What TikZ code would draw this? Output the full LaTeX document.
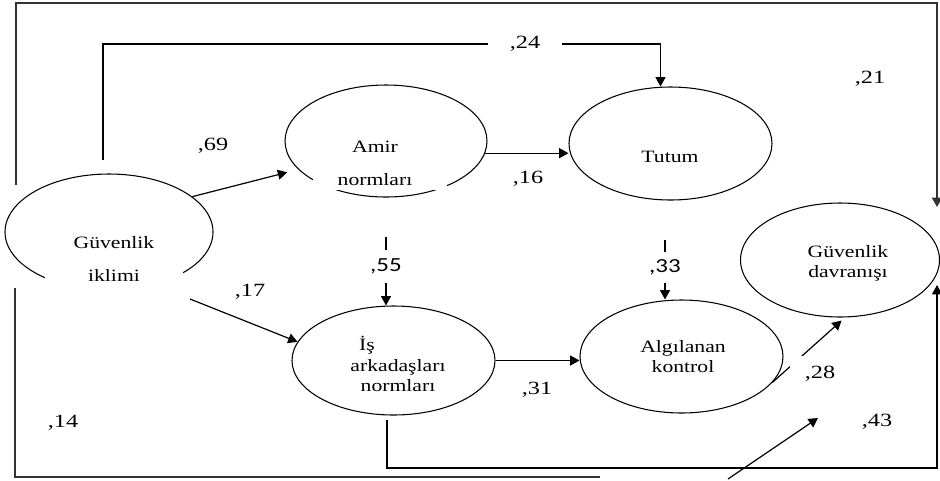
\documentclass[tikz,border=0pt]{standalone}
\usepackage{fontspec}
\setmainfont{Liberation Serif}
\newfontfamily\nodefont[FakeStretch=1.25]{Liberation Serif}
\newfontfamily\numfont[FakeStretch=1.3]{Liberation Serif}
\newfontfamily\sansnumfont[FakeStretch=1.25]{Carlito}
\usetikzlibrary{shapes.geometric,arrows.meta}

\begin{document}
\begin{tikzpicture}[x=0.75pt,y=-0.75pt,
  construct/.style={draw, ellipse, line width=0.8pt, inner sep=0pt},
  nodetext/.style={font=\nodefont\fontsize{13}{15}\selectfont, align=center, inner sep=0pt},
  coef/.style={font=\numfont\fontsize{14}{16}\selectfont, inner sep=0pt},
  coefsans/.style={font=\sansnumfont\fontsize{15}{17}\selectfont, inner sep=0pt},
  link/.style={line width=0.9pt, -{Triangle[length=7pt,width=7.5pt]}},
  frame/.style={line width=1.4pt, draw=black!80},
  gap/.style={fill=white, inner sep=0pt},
]
\useasboundingbox (0,0) rectangle (940,480);

% constructs
\node[construct, minimum width=156pt,    minimum height=87pt]    (ikl)  at (109,232)     {};
\node[construct, minimum width=151.5pt,  minimum height=84pt]    (amir) at (386,141)     {};
\node[construct, minimum width=152.25pt, minimum height=84.75pt] (tut)  at (670.5,143.5) {};
\node[construct, minimum width=149.25pt, minimum height=85.5pt]  (dav)  at (840,260)     {};
\node[construct, minimum width=152.25pt, minimum height=81.75pt] (is)   at (393.5,360.5) {};
\node[construct, minimum width=152.25pt, minimum height=84.75pt] (alg)  at (681.5,356.5) {};

% text boxes cutting the outlines
\fill[white] (45,268) rectangle (183,300);
\fill[white] (313,168) rectangle (447,190);

% construct names
\node[nodetext, font=\nodefont\fontsize{13}{24.75}\selectfont] (iklT) at (114,258.5) {Güvenlik\\iklimi};
\node[nodetext, font=\nodefont\fontsize{13}{24.5}\selectfont] (amirT) at (375,163.5) {Amir\\normları};
\node[nodetext] (tutT) at (670,157) {Tutum};
\node[nodetext] (davT) at (848,263) {Güvenlik\\davranışı};
\node[nodetext] (isT1) at (367,345) {İş};
\node[nodetext] (isT2) at (398,376) {arkadaşları\\normları};
\node[nodetext] (algT) at (683,357) {Algılanan\\kontrol};

% free ends of connectors
\coordinate (s17) at (190,299);
\coordinate (s24) at (103,160);
\coordinate (s55) at (386,237);
\coordinate (s33) at (665,240);
\coordinate (s21) at (16,185);
\coordinate (t21) at (937,207);
\coordinate (s14) at (15,288);
\coordinate (e14) at (600,477);
\coordinate (s14b) at (728,479);
\coordinate (t14b) at (818,418);
\coordinate (s43) at (387,420);
\coordinate (t43) at (937,285);

% paths
\draw[link, shorten >=8.6pt] (ikl.23) -- (amir.198);
\draw[link] (s17) -- (is.169);
\draw[link] (amir.-7) -- (amir.-7 -| tut.west);
\draw[link] (s24) -- ++(0,-116) -| ([xshift=-7.5pt]tut.north);
\draw[link] (s55) -- (s55 |- is.north);
\draw[link] (s33) -- (s33 |- alg.north);
\draw[link] (is.east) -- (is.east -| alg.west);
\draw[link, shorten >=3.5pt] (alg.-16) -- (dav.-85);
\draw[frame, -{Triangle[length=7pt,width=7.5pt]}] (s21) -- ++(0,-182) -| (t21);
\draw[frame] (s14) |- (e14);
\draw[link] (s14b) -- (t14b);
\draw[link] (s43) -- ++(0,48) -| (t43);

% coefficients
\node[coef, gap, minimum width=55.5pt, minimum height=12pt] (c24) at (525,44) {,24};
\node[coef] (c21) at (870,79) {,21};
\node[coef] (c69) at (213,146) {,69};
\node[coef] (c16) at (528,179) {,16};
\node[coefsans, gap, minimum height=24.75pt] (c55) at (386,266.5) {,55};
\node[coefsans, gap, minimum height=23.25pt] (c33) at (665,267.5) {,33};
\node[coef] (c17) at (250,292) {,17};
\node[coef] (c31) at (537,390) {,31};
\node[coef, gap, minimum width=45pt, minimum height=27pt] (c28) at (820,374) {,28};
\node[coef] (c43) at (877,422) {,43};
\node[coef] (c14) at (63,423) {,14};
\end{tikzpicture}
\end{document}
